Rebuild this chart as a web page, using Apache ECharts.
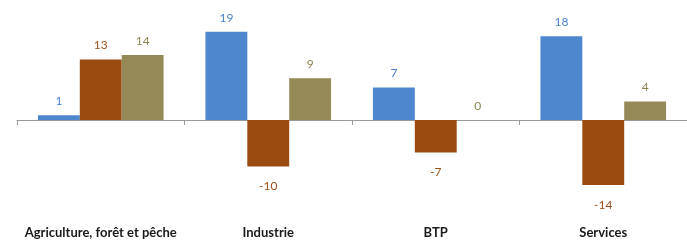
<!DOCTYPE html>
<html lang="fr">
<head>
    <meta charset="UTF-8">
    <title>Echarts</title>
    <script src="https://cdn.jsdelivr.net/npm/echarts@6/dist/echarts.min.js"></script>
    <style>
        html, body { margin: 0; padding: 0; background: #fff; }
    </style>
</head>
<body>
    <div id="main" style="width: 687px;height:244px;"></div>
    <script type="text/javascript">
        // données
        var categories = ['Agriculture, forêt et pêche', 'Industrie', 'BTP', 'Services'];
        var serieA = [1, 19, 7, 18];
        var serieB = [13, -10, -7, -14];
        var serieC = [14, 9, 0, 4];

        var colors = ['#4f87cf', '#9b4a10', '#958a57'];
        var labelColors = ['#4a82c8', '#a0521c', '#8c8450'];

        function makeSeries(data, i) {
            return {
                type: 'bar',
                // étiquettes en dessous pour les valeurs négatives
                data: data.map(function (v) {
                    if (v < 0) {
                        return { value: v, label: { position: 'bottom', distance: 14 } };
                    }
                    return v;
                }),
                barGap: '0%',
                barCategoryGap: '25%',
                itemStyle: { color: colors[i] },
                label: {
                    show: true,
                    position: 'top',
                    distance: 8,
                    color: labelColors[i],
                    fontFamily: 'Lato',
                    fontSize: 12
                }
            };
        }

        var myChart = echarts.init(document.getElementById('main'));
        var option = {
            animation: false,
            grid: { left: 17, right: 0, top: 27, bottom: 31, outerBoundsMode: 'none', containLabel: false },
            xAxis: [{
                type: 'category',
                data: categories,
                axisLine: { onZero: true, lineStyle: { color: '#9a9a9a', width: 1 } },
                axisTick: { show: true, interval: 0, length: 5, lineStyle: { color: '#9a9a9a' } },
                axisLabel: { show: false }
            }, {
                // libellés des catégories en bas
                type: 'category',
                data: categories,
                position: 'bottom',
                axisLine: { show: false, onZero: false },
                axisTick: { show: false },
                axisLabel: {
                    interval: 0,
                    margin: 13,
                    color: '#1a1a1a',
                    fontFamily: 'Lato',
                    fontWeight: 'bold',
                    fontSize: 13
                }
            }],
            yAxis: {
                type: 'value',
                min: -20,
                max: 20,
                interval: 5,
                axisLine: { show: false },
                axisTick: { show: false },
                axisLabel: { show: false },
                splitLine: { show: false }
            },
            series: [makeSeries(serieA, 0), makeSeries(serieB, 1), makeSeries(serieC, 2)]
        };
        myChart.setOption(option);
    </script>
</body>
</html>
